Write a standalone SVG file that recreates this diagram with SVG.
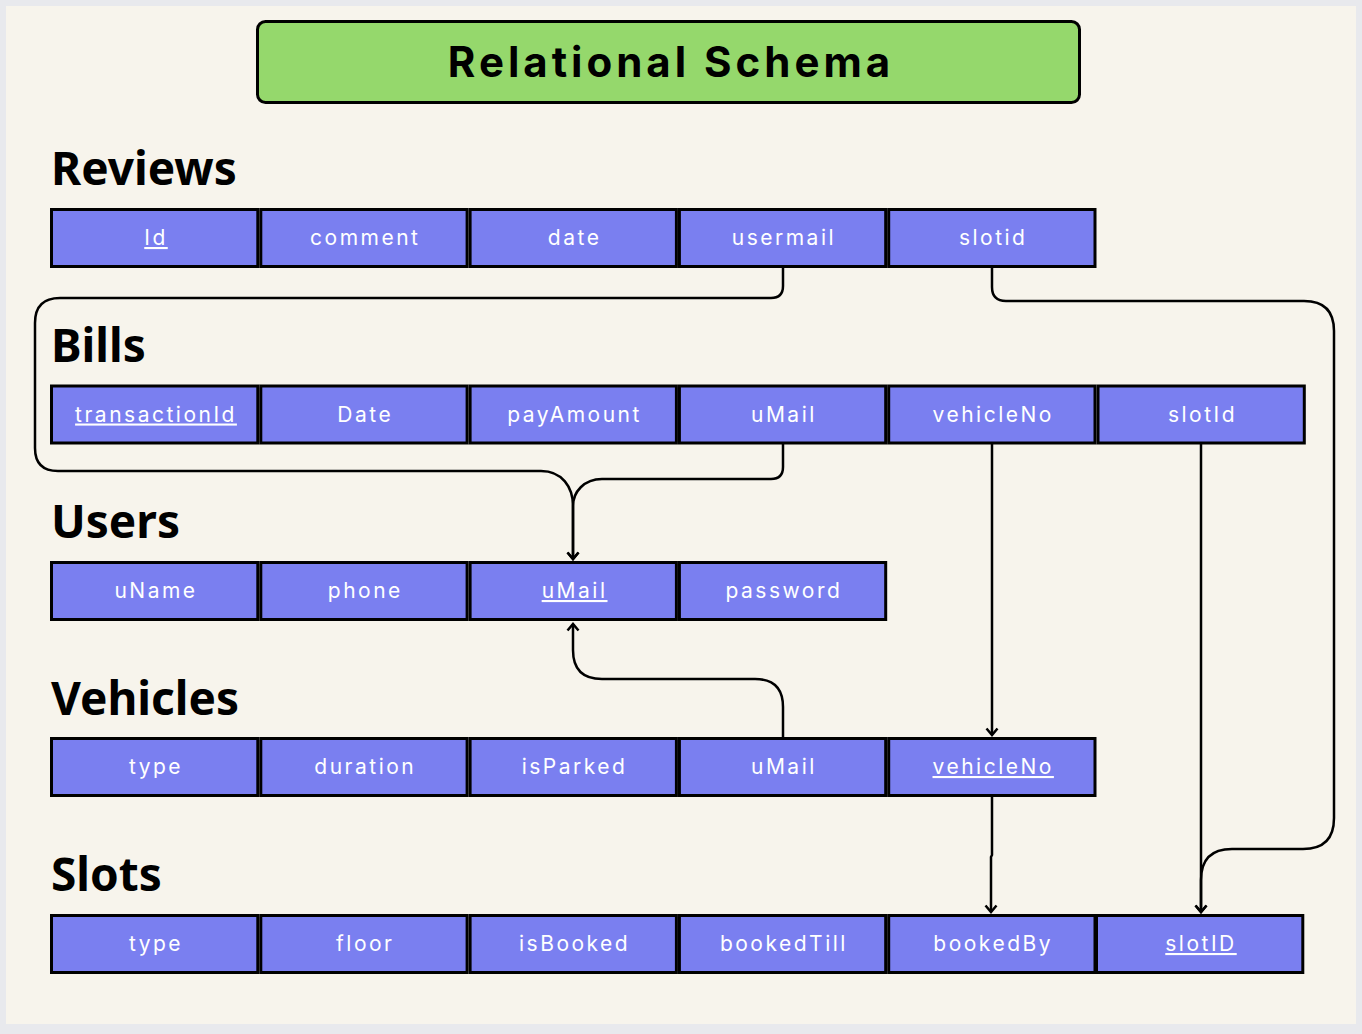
<svg xmlns="http://www.w3.org/2000/svg" width="1362" height="1034" viewBox="0 0 1362 1034">
<style>
.cell rect{fill:#7a7ff0;stroke:#000;stroke-width:3}
.cell text{font-family:Inter,"Liberation Sans",sans-serif;font-size:21px;letter-spacing:2.5px;fill:#fff;text-anchor:middle}
.pk{text-decoration:underline}
.head{font-family:"Noto Sans","Liberation Sans",sans-serif;font-weight:700;font-size:46px;fill:#000}
.conn path{fill:none;stroke:#000;stroke-width:2.5}
</style>
<defs>
<marker id="arr" markerUnits="userSpaceOnUse" markerWidth="20" markerHeight="20" viewBox="0 0 20 20" refX="10" refY="10" orient="auto">
<path d="M3.5 4.5 L10 10 L3.5 15.5" fill="none" stroke="#000" stroke-width="2.5"/>
</marker>
</defs>
<rect width="1362" height="1034" fill="#e8e9ed"/>
<rect x="6" y="6" width="1350" height="1018" fill="#f7f4ec"/>

<g id="title">
<rect x="257.5" y="21.5" width="822" height="81" rx="8" fill="#95d86c" stroke="#000" stroke-width="3"/>
<text x="671" y="77" font-family="Inter,'Liberation Sans',sans-serif" font-weight="700" font-size="42" letter-spacing="4" text-anchor="middle" fill="#000">Relational Schema</text>
</g>

<g id="connectors" class="conn">
<path d="M783 268 V286 Q783 298 771 298 H60 Q35 298 35 323 V448 Q35 471 58 471 H541 C562 471 573 487 573 506 V559" marker-end="url(#arr)"/>
<path d="M783 444 V467 Q783 479 771 479 H602 C584 479 573 492 573 506 V559" marker-end="url(#arr)"/>
<path d="M783 737 V707 Q783 679 755 679 H602 Q573 679 573 650 V624" marker-end="url(#arr)"/>
<path d="M992 268 V287 Q992 301 1006 301 H1304 Q1334 301 1334 331 V818 Q1334 849 1303 849 H1232 Q1201 849 1201 880 V912" marker-end="url(#arr)"/>
<path d="M1201 444 V912" marker-end="url(#arr)"/>
<path d="M992 444 V735" marker-end="url(#arr)"/>
<path d="M992 797 V855 L991 857 V912" marker-end="url(#arr)"/>
</g>

<g id="reviews">
<text class="head" x="51" y="185">Reviews</text>
<g id="reviews-id" class="cell"><rect x="51.5" y="209.5" width="206.3" height="57"/><text class="pk" x="156" y="245">Id</text></g>
<g id="reviews-comment" class="cell"><rect x="260.8" y="209.5" width="206.3" height="57"/><text x="365.3" y="245">comment</text></g>
<g id="reviews-date" class="cell"><rect x="470.1" y="209.5" width="206.3" height="57"/><text x="574.6" y="245">date</text></g>
<g id="reviews-usermail" class="cell"><rect x="679.4" y="209.5" width="206.3" height="57"/><text x="783.9" y="245">usermail</text></g>
<g id="reviews-slotid" class="cell"><rect x="888.7" y="209.5" width="206.3" height="57"/><text x="993.2" y="245">slotid</text></g>
</g>

<g id="bills">
<text class="head" x="51" y="361.5">Bills</text>
<g id="bills-transactionId" class="cell"><rect x="51.5" y="386" width="206.3" height="57"/><text class="pk" x="156" y="421.5">transactionId</text></g>
<g id="bills-Date" class="cell"><rect x="260.8" y="386" width="206.3" height="57"/><text x="365.3" y="421.5">Date</text></g>
<g id="bills-payAmount" class="cell"><rect x="470.1" y="386" width="206.3" height="57"/><text x="574.6" y="421.5">payAmount</text></g>
<g id="bills-uMail" class="cell"><rect x="679.4" y="386" width="206.3" height="57"/><text x="783.9" y="421.5">uMail</text></g>
<g id="bills-vehicleNo" class="cell"><rect x="888.7" y="386" width="206.3" height="57"/><text x="993.2" y="421.5">vehicleNo</text></g>
<g id="bills-slotId" class="cell"><rect x="1098" y="386" width="206.3" height="57"/><text x="1202.5" y="421.5">slotId</text></g>
</g>

<g id="users">
<text class="head" x="51" y="538">Users</text>
<g id="users-uName" class="cell"><rect x="51.5" y="562.5" width="206.3" height="57"/><text x="156" y="598">uName</text></g>
<g id="users-phone" class="cell"><rect x="260.8" y="562.5" width="206.3" height="57"/><text x="365.3" y="598">phone</text></g>
<g id="users-uMail" class="cell"><rect x="470.1" y="562.5" width="206.3" height="57"/><text class="pk" x="574.6" y="598">uMail</text></g>
<g id="users-password" class="cell"><rect x="679.4" y="562.5" width="206.3" height="57"/><text x="783.9" y="598">password</text></g>
</g>

<g id="vehicles">
<text class="head" x="51" y="714.5">Vehicles</text>
<g id="vehicles-type" class="cell"><rect x="51.5" y="738.5" width="206.3" height="57"/><text x="156" y="774">type</text></g>
<g id="vehicles-duration" class="cell"><rect x="260.8" y="738.5" width="206.3" height="57"/><text x="365.3" y="774">duration</text></g>
<g id="vehicles-isParked" class="cell"><rect x="470.1" y="738.5" width="206.3" height="57"/><text x="574.6" y="774">isParked</text></g>
<g id="vehicles-uMail" class="cell"><rect x="679.4" y="738.5" width="206.3" height="57"/><text x="783.9" y="774">uMail</text></g>
<g id="vehicles-vehicleNo" class="cell"><rect x="888.7" y="738.5" width="206.3" height="57"/><text class="pk" x="993.2" y="774">vehicleNo</text></g>
</g>

<g id="slots">
<text class="head" x="51" y="891">Slots</text>
<g id="slots-type" class="cell"><rect x="51.5" y="915.5" width="206.3" height="57"/><text x="156" y="951">type</text></g>
<g id="slots-floor" class="cell"><rect x="260.8" y="915.5" width="206.3" height="57"/><text x="365.3" y="951">floor</text></g>
<g id="slots-isBooked" class="cell"><rect x="470.1" y="915.5" width="206.3" height="57"/><text x="574.6" y="951">isBooked</text></g>
<g id="slots-bookedTill" class="cell"><rect x="679.4" y="915.5" width="206.3" height="57"/><text x="783.9" y="951">bookedTill</text></g>
<g id="slots-bookedBy" class="cell"><rect x="888.7" y="915.5" width="206.3" height="57"/><text x="993.2" y="951">bookedBy</text></g>
<g id="slots-slotID" class="cell"><rect x="1096.5" y="915.5" width="206.3" height="57"/><text class="pk" x="1201" y="951">slotID</text></g>
</g>
</svg>
